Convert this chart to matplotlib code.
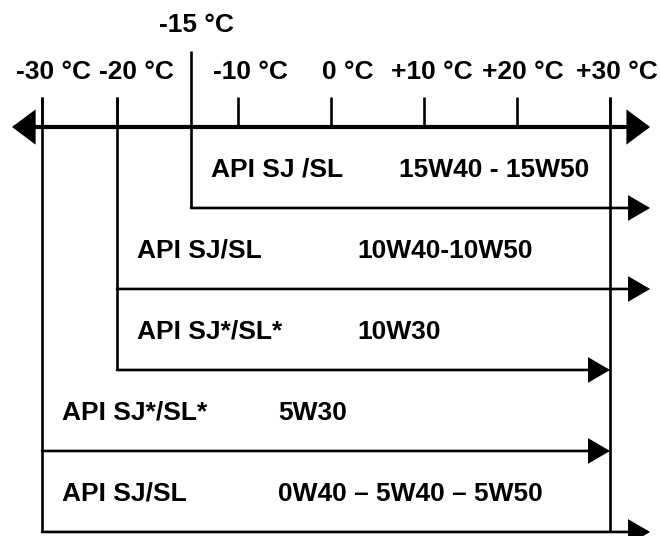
import numpy as np
import matplotlib.pyplot as plt

# temperature ticks along the top axis
tick_temps = [-30, -20, -10, 0, 10, 20, 30]
tick_labels = ["-30 °C", "-20 °C", "-10 °C", "0 °C", "+10 °C", "+20 °C", "+30 °C"]
cutoff_temp = -15
cutoff_label = "-15 °C"

# one row per oil grade: API class, SAE grade, usable temperature range
api_class = ["API SJ /SL", "API SJ/SL", "API SJ*/SL*", "API SJ*/SL*", "API SJ/SL"]
grades = ["15W40 - 15W50", "10W40-10W50", "10W30", "5W30", "0W40 – 5W40 – 5W50"]
t_low = [-15, -20, -20, -30, -30]
t_high = [None, None, 30, 30, None]   # None = open ended

# schematic (non linear) temperature scale of the drawing
kt = np.array([-30.0, -20.0, -15.0, 30.0])
ku = np.array([0.0, 7.5, 14.9, 56.8])
s_lo = (ku[1] - ku[0]) / (kt[1] - kt[0])
s_hi = (ku[-1] - ku[-2]) / (kt[-1] - kt[-2])


def fwd(t):
    t = np.asarray(t, float)
    u = np.interp(t, kt, ku)
    u = np.where(t < kt[0], ku[0] + (t - kt[0]) * s_lo, u)
    u = np.where(t > kt[-1], ku[-1] + (t - kt[-1]) * s_hi, u)
    return u


def inv(u):
    u = np.asarray(u, float)
    t = np.interp(u, ku, kt)
    t = np.where(u < ku[0], kt[0] + (u - ku[0]) / s_lo, t)
    t = np.where(u > ku[-1], kt[-1] + (u - ku[-1]) / s_hi, t)
    return t


FONT = dict(family="Liberation Sans", weight="bold", size=19, color="black")
LW_AXIS = 3.0
LW = 1.9
ARROW_L = -34.0   # arrow tips for open ends
ARROW_R = 34.3
TICK_TOP = -0.37


def arrow(ax, x0, x1, y, style="-|>", lw=LW, hw=0.76):
    ax.annotate("", xy=(x1, y), xytext=(x0, y),
                arrowprops=dict(arrowstyle=f"{style},head_length=1.3,head_width={hw}",
                                mutation_scale=10, lw=lw, color="black",
                                shrinkA=0, shrinkB=0, joinstyle="miter"))


fig = plt.figure(figsize=(6.6, 5.36), dpi=100)
ax = fig.add_axes([0, 0, 1, 1])
ax.set_xscale("function", functions=(fwd, inv))
ax.set_xlim(-35.6, 35.37)
ax.set_ylim(5.05, -1.568)
ax.axis("off")

# main temperature axis
arrow(ax, ARROW_L, ARROW_R, 0, style="<|-|>", lw=LW_AXIS, hw=0.97)

# short ticks and labels
label_dx = [8, 14, 9, 12, 6, 4, 5]
for t, lab, dx in zip(tick_temps, tick_labels, label_dx):
    ax.plot([t, t], [TICK_TOP, 0], color="black", lw=LW, solid_capstyle="butt")
    ax.annotate(lab, (t, -0.68), xytext=(dx, 0), textcoords="offset points",
                ha="center", va="center", **FONT)
ax.annotate(cutoff_label, (cutoff_temp, -1.26), xytext=(4, 0), textcoords="offset points",
            ha="center", va="center", **FONT)

# vertical limit lines, down to the last row that uses them
rows = np.arange(1, len(grades) + 1)
for t in sorted(set(t_low)):
    bottom = max(r for r, tl in zip(rows, t_low) if tl == t)
    top = -0.94 if t == cutoff_temp else TICK_TOP
    ax.plot([t, t], [top, bottom], color="black", lw=LW, solid_capstyle="butt")
ax.plot([30, 30], [TICK_TOP, rows[-1]], color="black", lw=LW, solid_capstyle="butt")

# rows
grade_dx = [150, 173, 173, 170, 170]   # points from the start line
for r, api, g, lo, hi, dx in zip(rows, api_class, grades, t_low, t_high, grade_dx):
    arrow(ax, lo, ARROW_R if hi is None else hi, r)
    ax.annotate(api, (lo, r - 0.5), xytext=(14.5, -1.5), textcoords="offset points",
                ha="left", va="center", **FONT)
    ax.annotate(g, (lo, r - 0.5), xytext=(dx, -1.5), textcoords="offset points",
                ha="left", va="center", **FONT)

fig.savefig("out.png", dpi=100)
